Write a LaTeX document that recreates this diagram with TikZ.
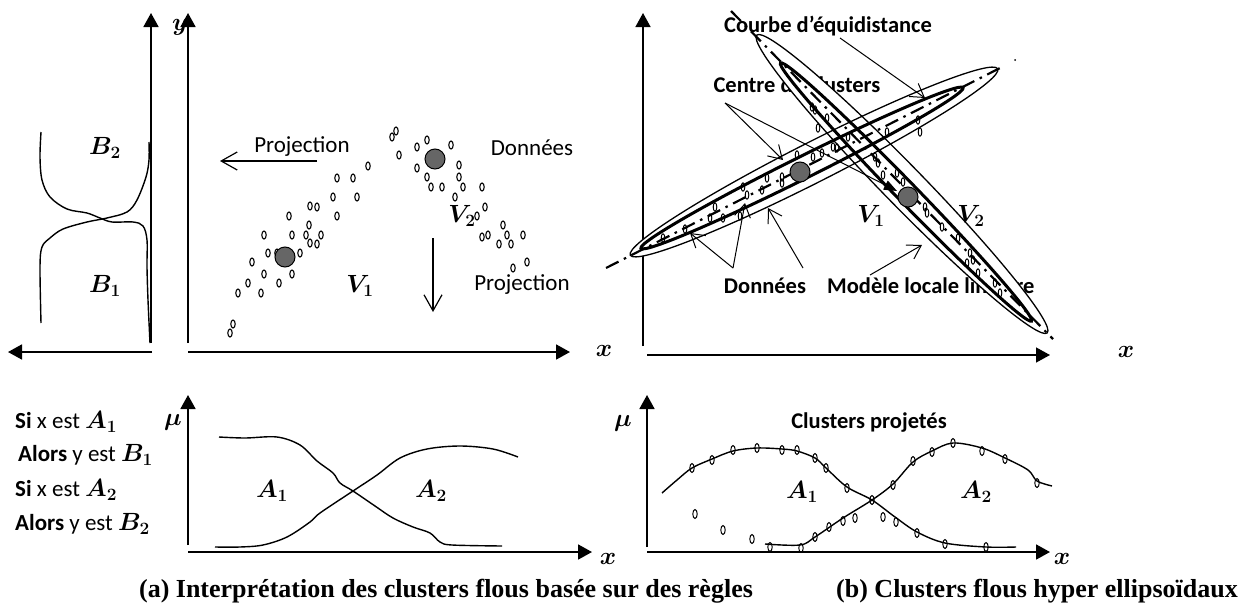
\documentclass[tikz,border=0pt]{standalone}
\usepackage{fontspec}
\setmainfont{Liberation Serif}
\newfontfamily\calib{Carlito}
\usetikzlibrary{arrows.meta}
\begin{document}
\begin{tikzpicture}[x=1pt,y=-1pt,
  ax/.style={line width=1.8pt,-{Triangle[length=14pt,width=15pt]}},
  axt/.style={line width=1.4pt,-{Triangle[length=14pt,width=15pt]}},
  proj/.style={line width=1.2pt,-{Straight Barb[length=16pt,width=18pt]}},
  ptr/.style={line width=1pt,-{Straight Barb[length=13pt,width=16pt]}},
  crv/.style={line width=1.4pt},
  dp/.style={line width=1.1pt},
  txt/.style={font=\calib\fontsize{23}{27}\selectfont,inner sep=0pt},
  btxt/.style={font=\calib\bfseries\fontsize{22.5}{27}\selectfont,inner sep=0pt},
  mth/.style={font=\fontsize{26}{30}\selectfont\boldmath,inner sep=0pt},
  capt/.style={font=\bfseries\fontsize{26}{30}\selectfont,inner sep=0pt},
  ctr/.style={circle,fill=black!60,draw=black,line width=1pt,minimum size=20pt,inner sep=0pt},
  dashax/.style={line width=2.2pt,dash pattern=on 14pt off 6pt on 2.5pt off 6pt},
  outer/.style={line width=1.3pt},
  inner/.style={line width=3pt}
]
\useasboundingbox (0,0) rectangle (1244,605);

% ================= TOP LEFT =================
\coordinate (l0) at (152,352); \coordinate (l1) at (8,352);
\coordinate (v0) at (151,343); \coordinate (v1) at (151,13);
\coordinate (w0) at (188,343); \coordinate (w1) at (188,13);
\coordinate (h0) at (188,352); \coordinate (h1) at (570,352);
\draw[ax] (l0) -- (l1);
\draw[ax] (v0) -- (v1);
\draw[ax] (w0) -- (w1);
\draw[ax] (h0) -- (h1);
\node[mth] (ylab) at (180,27) {$y$};
\node[mth] (xlab1) at (604,351) {$x$};

% B curves
\draw[crv] plot[smooth,tension=0.55] coordinates {(41,132) (40,157) (42,180) (50,197) (67,209) (87,213) (100,218) (112,222) (133,222) (143,226) (147,240) (147,267) (148,300) (150,343)};
\draw[crv] plot[smooth,tension=0.55] coordinates {(41,323) (40,267) (42,247) (50,238) (63,229) (87,222) (107,218) (127,212) (137,200) (146,177) (149,160) (149,142)};
\node[mth] (b2) at (105,148) {$B_2$};
\node[mth] (b1) at (105,286) {$B_1$};

% data points
\foreach \px/\py in {230/333,233/324,238/293,248/283,261/293,252/262,264/274,279/283,292/274,264/235,268/253,277/253,292/235,300/253,289/216,306/235,310/206,317/207,309/225,310/243,317/244,321/235,333/197,337/178,337/216,353/178,357/197,368/166,392/137,396/131,399/155,417/147,427/140,451/145,417/168,427/177,431/187,442/187,459/165,459/177,463/187,482/187,455/197,485/207,477/216,503/225,482/237,488/235,499/244,507/235,511/244,523/235,527/262,513/268}
  \draw[dp] (\px,\py) ellipse [x radius=2.2, y radius=4];
\node[ctr] (c1) at (285,257) {};
\node[ctr] (c2) at (435,159) {};
\node[mth] (v1lab) at (360,286) {$V_1$};
\node[mth] (v2lab) at (462,216) {$V_2$};

\node[txt] (proj1) at (302,147) {Projection};
\node[txt] (proj2) at (522,285) {Projection};
\node[txt] (don1) at (532,148) {Données};
\coordinate (pa0) at (317,161); \coordinate (pa1) at (220,161);
\coordinate (pb0) at (433,238); \coordinate (pb1) at (433,312);
\draw[proj] (pa0) -- (pa1);
\draw[proj] (pb0) -- (pb1);

% ================= BOTTOM LEFT =================
\coordinate (m0) at (188,545); \coordinate (m1) at (188,395);
\coordinate (n0) at (188,552); \coordinate (n1) at (592,552);
\draw[ax] (m0) -- (m1);
\draw[ax] (n0) -- (n1);
\node[mth] (mu1) at (173,422) {$\mu$};
\node[mth] (xlab2) at (608,559) {$x$};
\draw[crv] plot[smooth,tension=0.55] coordinates {(219,437) (245,438) (277,437) (300,445) (317,461) (333,473) (340,483) (353,491) (375,506) (393,518) (413,527) (430,533) (440,542) (452,545) (502,546)};
\draw[crv] plot[smooth,tension=0.55] coordinates {(215,547) (240,547) (263,545) (287,537) (310,522) (320,513) (353,491) (377,475) (400,458) (427,449) (460,446) (493,449) (518,457)};
\node[mth] (a1l) at (272,491) {$A_1$};
\node[mth] (a2l) at (431,491) {$A_2$};

\node[txt,anchor=west] (r1) at (15,422) {\textbf{Si} x est {\fontsize{25}{30}\selectfont\boldmath$A_1$}};
\node[txt,anchor=west] (r2) at (18,455) {\textbf{Alors} y est {\fontsize{25}{30}\selectfont\boldmath$B_1$}};
\node[txt,anchor=west] (r3) at (15,490) {\textbf{Si} x est {\fontsize{25}{30}\selectfont\boldmath$A_2$}};
\node[txt,anchor=west] (r4) at (15,524) {\textbf{Alors} y est {\fontsize{25}{30}\selectfont\boldmath$B_2$}};

\node[capt] (capa) at (446,591) {(a) Interprétation des clusters flous basée sur des règles};

% ================= TOP RIGHT =================
\coordinate (p0) at (643,346); \coordinate (p1) at (643,13);
\coordinate (q0) at (647,355); \coordinate (q1) at (1050,355);
\draw[axt] (p0) -- (p1);
\draw[axt] (q0) -- (q1);
\node[mth] (xlab3) at (1126,352) {$x$};

\node[btxt] (courbe) at (828,26) {Courbe d’équidistance};
\node[btxt] (centre) at (797,85) {Centre de clusters};
\node[btxt] (don2) at (765,286) {Données};
\node[btxt,anchor=west] (modele) at (827,286) {Modèle locale linéaire};

% ellipses
\fill[white,rotate around={26.9:(814,162)}] (814,162) ellipse [x radius=206, y radius=20];
\fill[white,rotate around={-45.7:(902,184)}] (902,184) ellipse [x radius=208, y radius=20];
\draw[outer,rotate around={26.9:(814,162)}] (814,162) ellipse [x radius=206, y radius=20];
\draw[outer,rotate around={-45.7:(902,184)}] (902,184) ellipse [x radius=208, y radius=20];
\draw[inner,rotate around={26.5:(802,168)}] (802,168) ellipse [x radius=180, y radius=11];
\draw[inner,rotate around={-45.8:(906,192)}] (906,192) ellipse [x radius=180, y radius=10];

\coordinate (d1a) at (606,268); \coordinate (d1b) at (1004,66);
\coordinate (d2a) at (731,11); \coordinate (d2b) at (1053,339);
\draw[dashax] (d1a) -- (d1b);
\draw[dashax] (d2a) -- (d2b);
\fill (1015,60) circle [radius=1];

\foreach \px/\py in {663/238,685/229,710/218,715/207,723/218,740/216,743/187,747/195,762/190,767/178,782/177,782/183,797/155,813/157,822/153,833/147,837/148,848/137,887/132,918/120,920/132,812/107,815/110,827/118,818/128,875/157,878/163,883/175,897/173,903/182,925/207,927/213,942/227,958/238,970/253,967/263,973/260,978/273,995/283,1000/293}
  \draw[line width=1pt] (\px,\py) ellipse [x radius=1.8, y radius=4.2];

\node[ctr] (c3) at (800,172) {};
\node[ctr] (c4) at (908,197) {};

\coordinate (cc) at (725,103);
\coordinate (cct1) at (783,160);
\coordinate (cct2) at (897,191);
\draw[ptr] (cc) -- (cct1);
\draw[line width=1pt,-{Triangle[length=13pt,width=10pt]}] (cc) -- (cct2);
\coordinate (co0) at (840,38); \coordinate (co1) at (925,98);
\draw[ptr] (co0) -- (co1);
\coordinate (dd0) at (733,268); \coordinate (dd1) at (690,233); \coordinate (dd2) at (745,203);
\coordinate (de0) at (803,268); \coordinate (de1) at (768,208);
\draw[ptr] (dd0) -- (dd1);
\draw[ptr] (dd0) -- (dd2);
\draw[ptr] (de0) -- (de1);
\coordinate (mo0) at (870,275); \coordinate (mo1) at (922,245);
\draw[ptr] (mo0) -- (mo1);

\node[mth] (v1r) at (871,216) {$V_1$};
\node[mth] (v2r) at (971,216) {$V_2$};

% ================= BOTTOM RIGHT =================
\coordinate (s0) at (647,547); \coordinate (s1) at (647,395);
\coordinate (t0) at (647,552); \coordinate (t1) at (1050,552);
\draw[ax] (s0) -- (s1);
\draw[ax] (t0) -- (t1);
\node[mth] (mu2) at (623,423) {$\mu$};
\node[mth] (xlab4) at (1062,559) {$x$};
\node[btxt] (cproj) at (869,423) {Clusters projetés};

\draw[crv] plot[smooth,tension=0.55] coordinates {(662,493) (677,480) (692,468) (712,459) (733,451) (757,448) (782,449) (797,451) (815,458) (826,468) (847,487) (872,500) (895,517) (917,532) (945,543) (986,547) (1016,547)};
\draw[crv] plot[smooth,tension=0.55] coordinates {(765,544) (800,545) (815,537) (843,518) (872,500) (893,484) (913,462) (932,451) (953,443) (982,448) (1005,458) (1028,470) (1037,481) (1052,486)};
\foreach \px/\py in {692/468,712/460,733/450,757/448,782/450,797/450,815/458,826/468,847/488,883/517,896/522,917/533,945/544,986/547,695/514,723/530,752/539,770/547,801/548,815/537,829/527,843/521,855/518,872/500,893/485,913/461,932/452,953/443,982/451,1005/459,1037/483}
  \draw[line width=1pt] (\px,\py) ellipse [x radius=2.2, y radius=4.5];
\node[mth] (a1r) at (802,492) {$A_1$};
\node[mth] (a2r) at (976,492) {$A_2$};

\node[capt] (capb) at (1037,591) {(b) Clusters flous hyper ellipsoïdaux};
\end{tikzpicture}
\end{document}
